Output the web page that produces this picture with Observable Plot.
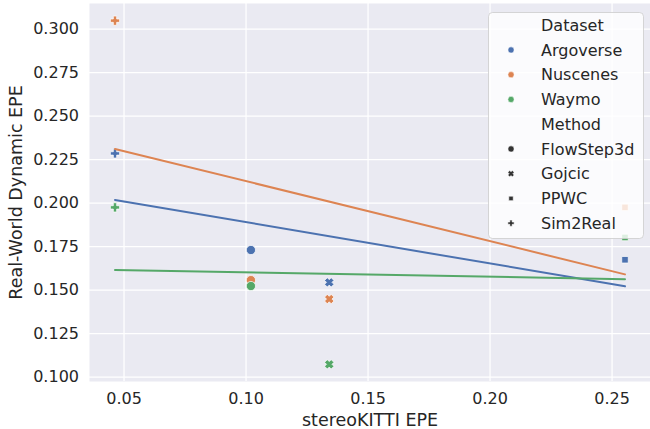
<!DOCTYPE html>
<html><head><meta charset="utf-8">
<script src="https://cdn.jsdelivr.net/npm/d3@7"></script>
<script src="https://cdn.jsdelivr.net/npm/@observablehq/plot@0.6"></script>
<style>
body{margin:0;background:#fff;font-family:"DejaVu Sans",sans-serif;}
#wrap{position:relative;width:650px;height:429px;}
#wrap svg.legend{position:absolute;left:0;top:0;pointer-events:none;}
g[aria-label="x-axis label"] text, g[aria-label="y-axis label"] text{font-size:17.5px;}
</style></head><body><div id="wrap"></div>
<script>
// ---- data ----
const datasets = ["Argoverse", "Nuscenes", "Waymo"];
const methods = ["FlowStep3d", "Gojcic", "PPWC", "Sim2Real"];
const stereoKITTI = [0.102, 0.1341, 0.2553, 0.0463];   // per method
const argoverse = [0.173, 0.1544, 0.1674, 0.2285];
const nuscenes  = [0.1557, 0.1448, 0.1975, 0.3048];
const waymo     = [0.1523, 0.1073, 0.1802, 0.1975];
const xTicks = [0.05, 0.10, 0.15, 0.20, 0.25];
const yTicks = [0.100, 0.125, 0.150, 0.175, 0.200, 0.225, 0.250, 0.275, 0.300];
const colors = ["#4c72b0", "#dd8452", "#55a868"];

const seriesValues = [argoverse, nuscenes, waymo];
const data = [];
datasets.forEach((d, i) => methods.forEach((m, j) =>
  data.push({dataset: d, method: m, x: stereoKITTI[j], y: seriesValues[i][j]})));

// ---- matplotlib-like filled markers ----
const S = Math.SQRT1_2;
function crossPts(d, w){
  return [[w,w],[d,w],[d,-w],[w,-w],[w,-d],[-w,-d],[-w,-w],[-d,-w],[-d,w],[-w,w],[-w,d],[w,d]]; }
const symCircle = {draw(c, size){ const r = Math.sqrt(size/Math.PI); c.moveTo(r,0); c.arc(0,0,r,0,2*Math.PI); }};
const symX = {draw(c, size){ const r = Math.sqrt(size/Math.PI);
  crossPts(r*1.02, r*0.42).forEach(([x,y],i)=>{ const X=(x-y)*S, Y=(x+y)*S; i?c.lineTo(X,Y):c.moveTo(X,Y); }); c.closePath(); }};
const symSquare = {draw(c, size){ const h = Math.sqrt(size/Math.PI)*S; c.rect(-h,-h,2*h,2*h); }};
const symPlus = {draw(c, size){ const r = Math.sqrt(size/Math.PI);
  crossPts(r, r*0.36).forEach(([x,y],i)=> i?c.lineTo(x,y):c.moveTo(x,y)); c.closePath(); }};
const symbols = [symCircle, symX, symSquare, symPlus];

function padded(vals){ const [a,b] = d3.extent(vals); const p = (b-a)*0.05; return [a-p, b+p]; }

const chart = Plot.plot({
  width: 650, height: 429,
  marginLeft: 89, marginRight: 0, marginTop: 3, marginBottom: 48,
  style: {fontFamily: '"DejaVu Sans", sans-serif', fontSize: "16px", color: "#262626", background: "transparent"},
  x: {domain: padded(data.map(d => d.x))},
  y: {domain: padded(data.map(d => d.y))},
  color: {domain: datasets, range: colors},
  symbol: {domain: methods, range: symbols},
  marks: [
    Plot.frame({fill: "#eaeaf2", stroke: null}),
    Plot.gridX(xTicks, {stroke: "white", strokeOpacity: 1, strokeWidth: 1.25}),
    Plot.gridY(yTicks, {stroke: "white", strokeOpacity: 1, strokeWidth: 1.25}),
    Plot.axisX(xTicks, {tickFormat: d3.format(".2f"), tickSize: 0, tickPadding: 11,
      label: "stereoKITTI EPE", labelAnchor: "center", labelOffset: 44, labelArrow: "none"}),
    Plot.axisY(yTicks, {tickFormat: d3.format(".3f"), tickSize: 0, tickPadding: 10.5,
      label: "Real-World Dynamic EPE", labelAnchor: "center", labelOffset: 80, labelArrow: "none"}),
    Plot.dot(data, {x: "x", y: "y", fill: "dataset", symbol: "method", r: 4.6, stroke: "white", strokeWidth: 0.7}),
    Plot.linearRegressionY(data, {x: "x", y: "y", stroke: "dataset", ci: 0, strokeWidth: 2})
  ]
});
const wrap = document.getElementById("wrap");
wrap.appendChild(chart);

// ---- legend (seaborn style, overlaid on the axes) ----
const lg = d3.select(wrap).append("svg").attr("class", "legend")
  .attr("width", 650).attr("height", 429)
  .style("font-family", '"DejaVu Sans", sans-serif').style("font-size", "16px");
const box = {x: 488.5, y: 12.5, w: 155, h: 226};
lg.append("rect").attr("x", box.x).attr("y", box.y).attr("width", box.w).attr("height", box.h)
  .attr("rx", 4).attr("fill", "white").attr("fill-opacity", 0.8)
  .attr("stroke", "#cccccc").attr("stroke-opacity", 0.8);
const rows = [{t: "Dataset"}]
  .concat(datasets.map((d, i) => ({t: d, fill: colors[i], sym: symCircle})))
  .concat([{t: "Method"}])
  .concat(methods.map((m, i) => ({t: m, fill: "#333333", sym: symbols[i]})));
rows.forEach((r, i) => {
  const cy = box.y + 12.7 + i * 24.75;
  if (r.sym) lg.append("path").attr("transform", `translate(${box.x + 22.5},${cy})`)
    .attr("d", d3.symbol(r.sym, 30)()).attr("fill", r.fill).attr("stroke", "white").attr("stroke-width", 0.5);
  lg.append("text").attr("x", box.x + 52.5).attr("y", cy).attr("dy", "0.36em")
    .attr("fill", "#262626").text(r.t);
});
</script></body></html>
